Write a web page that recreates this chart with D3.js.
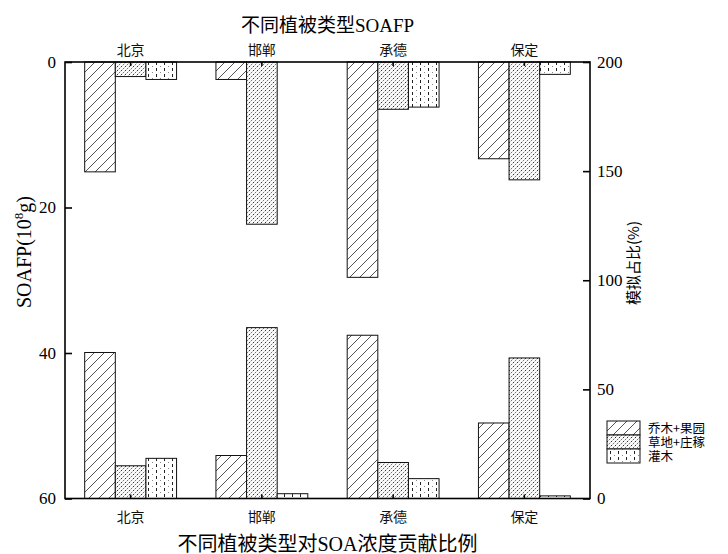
<!DOCTYPE html>
<html>
<head>
<meta charset="utf-8">
<script src="https://cdn.jsdelivr.net/npm/d3@7"></script>
<style>
  body { margin: 0; background: #fff; }
  text { font-family: "Liberation Serif", "Noto Sans CJK SC", serif; }
  .cjk { font-family: "Noto Sans CJK SC", sans-serif; }
</style>
</head>
<body>
<div id="chart"></div>
<script>
// Data
const cities = ["北京", "邯郸", "承德", "保定"];
const types = ["乔木+果园", "草地+庄稼", "灌木"];
// SOAFP (10^8 g), bars hanging from the top, left axis
const soafp = [
  [15.1, 2.0, 2.4],
  [2.4, 22.3, 0],
  [29.6, 6.5, 6.2],
  [13.3, 16.2, 1.7]
];
// contribution to SOA (%), bars standing on the bottom, right axis
const share = [
  [66.9, 15.0, 18.4],
  [19.7, 78.3, 2.2],
  [74.8, 16.5, 9.1],
  [34.6, 64.4, 1.2]
];
const leftTicks = [0, 20, 40, 60];
const rightTicks = [0, 50, 100, 150, 200];

// Set the dimensions and margins of the graph
const margin = {top: 62, right: 138, bottom: 55.5, left: 65},
    width = 728 - margin.left - margin.right,
    height = 554 - margin.top - margin.bottom;

const root = d3.select("#chart")
  .append("svg")
    .attr("width", 728)
    .attr("height", 554);

// Fill patterns
const defs = root.append("defs");
const hatch = defs.append("pattern")
    .attr("id", "p0")
    .attr("patternUnits", "userSpaceOnUse")
    .attr("width", 10).attr("height", 10);
hatch.append("rect").attr("width", 10).attr("height", 10).attr("fill", "#fff");
hatch.append("path")
    .attr("d", "M0,10 L10,0 M-2,2 L2,-2 M8,12 L12,8")
    .attr("stroke", "#555").attr("stroke-width", 1);

const dots = defs.append("pattern")
    .attr("id", "p1")
    .attr("patternUnits", "userSpaceOnUse")
    .attr("width", 4).attr("height", 4);
dots.append("rect").attr("width", 4).attr("height", 4).attr("fill", "#fafafa");
[[0, 0, "#333"], [2, 2, "#777"], [1, 3, "#ccc"], [3, 1, "#ccc"]]
  .forEach(d => dots.append("rect")
    .attr("x", d[0]).attr("y", d[1]).attr("width", 1).attr("height", 1).attr("fill", d[2]));

const dash = defs.append("pattern")
    .attr("id", "p2")
    .attr("patternUnits", "userSpaceOnUse")
    .attr("width", 8).attr("height", 6);
dash.append("rect").attr("width", 8).attr("height", 6).attr("fill", "#fff");
dash.append("rect").attr("x", 3).attr("y", 0).attr("width", 1).attr("height", 3).attr("fill", "#222");
dash.append("rect").attr("x", 7).attr("y", 4).attr("width", 1).attr("height", 1).attr("fill", "#888");

const fills = ["url(#p0)", "url(#p1)", "url(#p2)"];

const svg = root.append("g")
    .attr("transform", `translate(${margin.left},${margin.top})`);

// Scales
const x = d3.scaleBand()
    .domain(cities)
    .range([0, width])
    .paddingInner(0.3)
    .paddingOuter(0.15);
const x1 = d3.scaleBand()
    .domain(types)
    .range([0, x.bandwidth()]);
const yTop = d3.scaleLinear().domain([0, 60]).range([0, height]);
const yBot = d3.scaleLinear().domain([0, 200]).range([height, 0]);

// Top bars (SOAFP)
cities.forEach((c, i) => {
  svg.append("g")
    .selectAll("rect")
    .data(soafp[i])
    .join("rect")
      .attr("x", (d, j) => x(c) + x1(types[j]))
      .attr("y", 0)
      .attr("width", x1.bandwidth())
      .attr("height", d => yTop(d))
      .attr("fill", (d, j) => fills[j])
      .attr("stroke", d => d > 0 ? "#111" : "none")
      .attr("stroke-width", 1);
});

// Bottom bars (share %)
cities.forEach((c, i) => {
  svg.append("g")
    .selectAll("rect")
    .data(share[i])
    .join("rect")
      .attr("x", (d, j) => x(c) + x1(types[j]))
      .attr("y", d => yBot(d))
      .attr("width", x1.bandwidth())
      .attr("height", d => height - yBot(d))
      .attr("fill", (d, j) => fills[j])
      .attr("stroke", "#111")
      .attr("stroke-width", 1);
});

// Frame
svg.append("rect")
    .attr("width", width)
    .attr("height", height)
    .attr("fill", "none")
    .attr("stroke", "#000")
    .attr("stroke-width", 1.6);

// Axes
const axL = svg.append("g")
    .call(d3.axisLeft(yTop).tickValues(leftTicks).tickSize(-7).tickSizeOuter(0).tickPadding(9));
const axR = svg.append("g")
    .attr("transform", `translate(${width},0)`)
    .call(d3.axisRight(yBot).tickValues(rightTicks).tickSize(-7).tickSizeOuter(0).tickPadding(7));
const axT = svg.append("g")
    .call(d3.axisTop(x).tickSize(-4).tickSizeOuter(0).tickPadding(7));
const axB = svg.append("g")
    .attr("transform", `translate(0,${height})`)
    .call(d3.axisBottom(x).tickSize(-4).tickSizeOuter(0).tickPadding(14));

[axL, axR, axT, axB].forEach(a => {
  a.select(".domain").remove();
  a.selectAll("line").attr("stroke", "#000").attr("stroke-width", 1.6);
});
[axL, axR].forEach(a => a.selectAll("text")
    .attr("font-family", "Liberation Serif")
    .style("font-size", "17px")
    .attr("fill", "#000"));
[axT, axB].forEach(a => a.selectAll("text")
    .attr("class", "cjk")
    .style("font-size", "14px")
    .attr("fill", "#111"));

// Titles
svg.append("text")
    .attr("x", width / 2)
    .attr("y", -30)
    .attr("text-anchor", "middle")
    .style("font-size", "19px")
    .text("不同植被类型SOAFP");

svg.append("text")
    .attr("x", width / 2)
    .attr("y", height + 52)
    .attr("text-anchor", "middle")
    .style("font-size", "20px")
    .text("不同植被类型对SOA浓度贡献比例");

// Left axis label
const yl = svg.append("text")
    .attr("transform", "rotate(-90)")
    .attr("x", -190)
    .attr("y", -34)
    .attr("text-anchor", "middle")
    .style("font-size", "20px");
yl.append("tspan").text("SOAFP(10");
yl.append("tspan").attr("dy", -8).style("font-size", "13px").text("8");
yl.append("tspan").attr("dy", 8).text("g)");

// Right axis label
svg.append("text")
    .attr("class", "cjk")
    .attr("transform", "rotate(-90)")
    .attr("x", -201)
    .attr("y", width + 49)
    .attr("text-anchor", "middle")
    .style("font-size", "15px")
    .text("模拟占比(%)");

// Legend
const lg = root.append("g")
    .attr("transform", "translate(607,421)");
types.forEach((t, j) => {
  lg.append("rect")
    .attr("x", 0)
    .attr("y", j * 14)
    .attr("width", 33)
    .attr("height", 14)
    .attr("fill", fills[j])
    .attr("stroke", "#111");
  lg.append("text")
    .attr("class", "cjk")
    .attr("x", 41)
    .attr("y", j * 14 + 11.5)
    .style("font-size", "12.5px")
    .text(t);
});
</script>
</body>
</html>
